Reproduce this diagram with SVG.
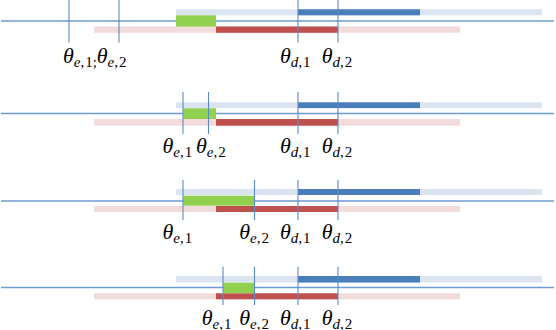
<svg xmlns="http://www.w3.org/2000/svg" width="556" height="330" viewBox="0 0 556 330">
<style>
.axis{stroke:#6f9bd1;stroke-width:1.6;fill:none}
.v{stroke:#5a8ac6;stroke-width:1.1;fill:none}
.lb{fill:#dbe5f1}
.db{fill:#4a7ebb}
.pk{fill:#f2dcdb}
.dr{fill:#c0504d}
.gr{fill:#92d050}
text{font-family:"Liberation Serif","DejaVu Serif",serif;fill:#000}
.th{font-size:22px;font-style:italic}
.si{font-size:15px;font-style:italic}
.sr{font-size:15px;font-style:normal}
</style>
<rect width="556" height="330" fill="#fff"/>
<g id="panel1">
<line class="axis" x1="1" y1="21" x2="554" y2="21"/>
<rect class="lb" x="176" y="9.3" width="366" height="6"/>
<rect class="db" x="298" y="9.3" width="122" height="6"/>
<rect class="pk" x="94" y="26.5" width="366" height="6.3"/>
<rect class="dr" x="216" y="26.5" width="122" height="6.3"/>
<rect class="gr" x="176" y="15.3" width="40" height="11.3"/>
<line class="v" x1="69" y1="0" x2="69" y2="42.5"/>
<line class="v" x1="119" y1="0" x2="119" y2="42.5"/>
<line class="v" x1="298" y1="0" x2="298" y2="42.5"/>
<line class="v" x1="338" y1="0" x2="338" y2="42.5"/>
<text x="63" y="62.5"><tspan class="th">θ</tspan><tspan class="si" dy="4">e</tspan><tspan class="sr">,</tspan><tspan class="sr" dx="1">1;</tspan></text>
<text x="96.7" y="62.5"><tspan class="th">θ</tspan><tspan class="si" dy="4">e</tspan><tspan class="sr">,</tspan><tspan class="sr" dx="1">2</tspan></text>
<text x="280" y="62.5"><tspan class="th">θ</tspan><tspan class="si" dy="4">d</tspan><tspan class="sr">,</tspan><tspan class="sr" dx="1">1</tspan></text>
<text x="321.7" y="62.5"><tspan class="th">θ</tspan><tspan class="si" dy="4">d</tspan><tspan class="sr">,</tspan><tspan class="sr" dx="1">2</tspan></text>
</g>
<g id="panel2">
<line class="axis" x1="1" y1="113.5" x2="554" y2="113.5"/>
<rect class="lb" x="176" y="102.3" width="366" height="5.8"/>
<rect class="db" x="298" y="102.3" width="122" height="5.8"/>
<rect class="pk" x="94" y="119" width="366" height="6.7"/>
<rect class="dr" x="216" y="119" width="122" height="6.7"/>
<rect class="gr" x="183.3" y="108.3" width="32.7" height="10.7"/>
<line class="v" x1="183" y1="92" x2="183" y2="134"/>
<line class="v" x1="208.5" y1="92" x2="208.5" y2="134"/>
<line class="v" x1="298" y1="92" x2="298" y2="134"/>
<line class="v" x1="338" y1="92" x2="338" y2="134"/>
<text x="162.5" y="153.3"><tspan class="th">θ</tspan><tspan class="si" dy="4">e</tspan><tspan class="sr">,</tspan><tspan class="sr" dx="1">1</tspan></text>
<text x="196" y="153.3"><tspan class="th">θ</tspan><tspan class="si" dy="4">e</tspan><tspan class="sr">,</tspan><tspan class="sr" dx="1">2</tspan></text>
<text x="280" y="153.3"><tspan class="th">θ</tspan><tspan class="si" dy="4">d</tspan><tspan class="sr">,</tspan><tspan class="sr" dx="1">1</tspan></text>
<text x="321.7" y="153.3"><tspan class="th">θ</tspan><tspan class="si" dy="4">d</tspan><tspan class="sr">,</tspan><tspan class="sr" dx="1">2</tspan></text>
</g>
<g id="panel3">
<line class="axis" x1="1" y1="201" x2="554" y2="201"/>
<rect class="lb" x="176" y="189" width="366" height="6"/>
<rect class="db" x="298" y="189" width="122" height="6"/>
<rect class="pk" x="94" y="206" width="366" height="6"/>
<rect class="dr" x="216" y="206" width="122" height="6"/>
<rect class="gr" x="183.3" y="195.7" width="70.7" height="10"/>
<line class="v" x1="183" y1="180" x2="183" y2="220"/>
<line class="v" x1="254.5" y1="180" x2="254.5" y2="220"/>
<line class="v" x1="298" y1="180" x2="298" y2="220"/>
<line class="v" x1="338" y1="180" x2="338" y2="220"/>
<text x="162.5" y="238.5"><tspan class="th">θ</tspan><tspan class="si" dy="4">e</tspan><tspan class="sr">,</tspan><tspan class="sr" dx="1">1</tspan></text>
<text x="239.3" y="238.5"><tspan class="th">θ</tspan><tspan class="si" dy="4">e</tspan><tspan class="sr">,</tspan><tspan class="sr" dx="1">2</tspan></text>
<text x="280" y="238.5"><tspan class="th">θ</tspan><tspan class="si" dy="4">d</tspan><tspan class="sr">,</tspan><tspan class="sr" dx="1">1</tspan></text>
<text x="321.7" y="238.5"><tspan class="th">θ</tspan><tspan class="si" dy="4">d</tspan><tspan class="sr">,</tspan><tspan class="sr" dx="1">2</tspan></text>
</g>
<g id="panel4">
<line class="axis" x1="1" y1="287.5" x2="554" y2="287.5"/>
<rect class="lb" x="176" y="276" width="366" height="6.5"/>
<rect class="db" x="298" y="276" width="122" height="6.5"/>
<rect class="pk" x="94" y="293.3" width="366" height="6"/>
<rect class="dr" x="216" y="293.3" width="122" height="6"/>
<rect class="gr" x="223.3" y="282.7" width="30.7" height="10.5"/>
<line class="v" x1="223" y1="266.7" x2="223" y2="305"/>
<line class="v" x1="254.5" y1="266.7" x2="254.5" y2="305"/>
<line class="v" x1="298" y1="266.7" x2="298" y2="305"/>
<line class="v" x1="338" y1="266.7" x2="338" y2="305"/>
<text x="201.7" y="324.5"><tspan class="th">θ</tspan><tspan class="si" dy="4">e</tspan><tspan class="sr">,</tspan><tspan class="sr" dx="1">1</tspan></text>
<text x="239.3" y="324.5"><tspan class="th">θ</tspan><tspan class="si" dy="4">e</tspan><tspan class="sr">,</tspan><tspan class="sr" dx="1">2</tspan></text>
<text x="280" y="324.5"><tspan class="th">θ</tspan><tspan class="si" dy="4">d</tspan><tspan class="sr">,</tspan><tspan class="sr" dx="1">1</tspan></text>
<text x="321.7" y="324.5"><tspan class="th">θ</tspan><tspan class="si" dy="4">d</tspan><tspan class="sr">,</tspan><tspan class="sr" dx="1">2</tspan></text>
</g>
</svg>
